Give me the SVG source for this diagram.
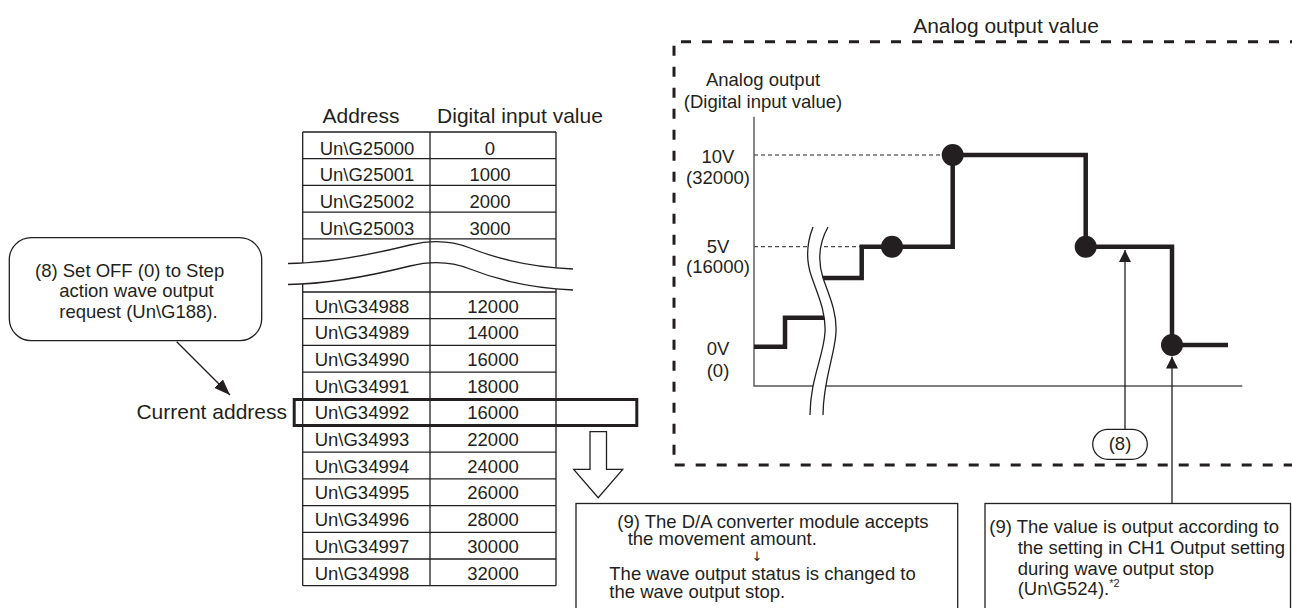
<svg xmlns="http://www.w3.org/2000/svg" width="1292" height="608" viewBox="0 0 1292 608">
<style>
text{font-family:"Liberation Sans",Arial,sans-serif;fill:#231f20;font-size:18.5px}
.big{font-size:21px}
.mid{text-anchor:middle}
.sym{font-family:"DejaVu Sans","Liberation Sans",sans-serif;font-size:13px}
.ln{stroke:#231f20;stroke-width:1.3;fill:none}
.ax{stroke:#555;stroke-width:1.4;fill:none}
.thick{stroke:#231f20;stroke-width:4.5;fill:none;stroke-linejoin:miter}
.frame{stroke:#231f20;stroke-width:3;fill:none;stroke-dasharray:10 11}
.dl{stroke:#231f20;stroke-width:1;fill:none;stroke-dasharray:4 3}
.dot{fill:#231f20}
</style>
<defs>
<marker id="ah" viewBox="0 0 12 12" refX="12" refY="6" markerWidth="12" markerHeight="12" markerUnits="userSpaceOnUse" orient="auto">
<path d="M0,0 L12,6 L0,12 Z" fill="#231f20"/>
</marker>
<marker id="ah2" viewBox="0 0 16 12" refX="16" refY="6" markerWidth="16" markerHeight="12" markerUnits="userSpaceOnUse" orient="auto">
<path d="M0,0 L16,6 L0,12 Z" fill="#231f20"/>
</marker>
</defs>

<g id="table">
<text class="big mid" x="361" y="122.5">Address</text>
<text class="big mid" x="520" y="122.5">Digital input value</text>
<path class="ln" d="M302.7,132 H556 M302.7,158.7 H556 M302.7,185.4 H556 M302.7,212.1 H556 M302.7,238.8 H556"/>
<path class="ln" d="M302.7,132 V292 M556,132 V292"/>
<path class="ln" d="M302.7,292 H556 M302.7,318.7 H556 M302.7,345.4 H556 M302.7,372.1 H556 M302.7,398.8 H556 M302.7,425.5 H556 M302.7,452.2 H556 M302.7,478.9 H556 M302.7,505.6 H556 M302.7,532.3 H556 M302.7,559 H556 M302.7,585.7 H556"/>
<path class="ln" d="M302.7,292 V585.7 M556,292 V585.7"/>
<path d="M288,263.5 C330,263 370,255 410,245 C430,240 450,240 470,248 C495,258 530,267 573,269 L573,290 C530,288 495,279 470,269 C450,261 430,261 410,266 C370,276 330,284 288,284.5 Z" fill="#fff"/>
<path class="ln" d="M288,263.5 C330,263 370,255 410,245 C430,240 450,240 470,248 C495,258 530,267 573,269"/>
<path class="ln" d="M288,284.5 C330,284 370,276 410,266 C430,261 450,261 470,269 C495,279 530,288 573,290"/>
<path class="ln" d="M430,132 V585.7"/>
<text class="mid" x="367" y="154.5">Un\G25000</text><text class="mid" x="490" y="154.5">0</text>
<text class="mid" x="367" y="181.2">Un\G25001</text><text class="mid" x="490" y="181.2">1000</text>
<text class="mid" x="367" y="207.9">Un\G25002</text><text class="mid" x="490" y="207.9">2000</text>
<text class="mid" x="367" y="234.6">Un\G25003</text><text class="mid" x="490" y="234.6">3000</text>
<text class="mid" x="362" y="312.5">Un\G34988</text><text class="mid" x="493" y="312.5">12000</text>
<text class="mid" x="362" y="339.2">Un\G34989</text><text class="mid" x="493" y="339.2">14000</text>
<text class="mid" x="362" y="365.9">Un\G34990</text><text class="mid" x="493" y="365.9">16000</text>
<text class="mid" x="362" y="392.6">Un\G34991</text><text class="mid" x="493" y="392.6">18000</text>
<text class="mid" x="362" y="419.3">Un\G34992</text><text class="mid" x="493" y="419.3">16000</text>
<text class="mid" x="362" y="446">Un\G34993</text><text class="mid" x="493" y="446">22000</text>
<text class="mid" x="362" y="472.7">Un\G34994</text><text class="mid" x="493" y="472.7">24000</text>
<text class="mid" x="362" y="499.4">Un\G34995</text><text class="mid" x="493" y="499.4">26000</text>
<text class="mid" x="362" y="526.1">Un\G34996</text><text class="mid" x="493" y="526.1">28000</text>
<text class="mid" x="362" y="552.8">Un\G34997</text><text class="mid" x="493" y="552.8">30000</text>
<text class="mid" x="362" y="579.5">Un\G34998</text><text class="mid" x="493" y="579.5">32000</text>
</g>

<g id="current-row">
<rect x="294.2" y="399.5" width="342.6" height="26" fill="none" stroke="#231f20" stroke-width="3"/>
</g>

<g id="current-address">
<text class="big" x="287" y="419" text-anchor="end">Current address</text>
</g>

<g id="callout-8">
<rect x="9.3" y="237.7" width="252.4" height="103" rx="22" ry="22" class="ln" fill="#fff"/>
<text x="35" y="276.5">(8) Set OFF (0) to Step</text>
<text x="59.3" y="297">action wave output</text>
<text x="59.3" y="317.5">request (Un\G188).</text>
</g>

<g id="chart">
<text class="big mid" x="1006" y="33">Analog output value</text>
<path class="frame" d="M1300,41.7 H674 V465 H1300"/>
<text class="mid" x="763" y="85.7">Analog output</text>
<text class="mid" x="763" y="108.3">(Digital input value)</text>
<text class="mid" x="718" y="163">10V</text>
<text class="mid" x="718" y="183.5">(32000)</text>
<text class="mid" x="718" y="253">5V</text>
<text class="mid" x="718" y="273">(16000)</text>
<text class="mid" x="718" y="355">0V</text>
<text class="mid" x="718" y="377">(0)</text>
<path class="dl" d="M754,155 H942 M754,246.7 H860"/>
<path class="ax" d="M754,116.7 V386 H1242.3"/>
<path class="thick" d="M754,346.7 H785 V317.7 H826"/>
<path class="thick" d="M820,278 H861.7 V246.7 H952.7 V155 H1085.7 V246.7 H1172 V345 H1228"/>
<path d="M813,227 C806,245 806,262 812,278 C818,295 826,312 825,332 C824,355 810,380 810,415 L823,415 C823,380 835,355 836,332 C837,312 829,295 823,278 C818,262 818,245 828,227 Z" fill="#fff"/>
<path class="ln" d="M813,227 C806,245 806,262 812,278 C818,295 826,312 825,332 C824,355 810,380 810,415"/>
<path class="ln" d="M828,227 C818,245 818,262 823,278 C829,295 837,312 836,332 C835,355 823,380 823,415"/>
<circle class="dot" cx="892" cy="246.7" r="11"/>
<circle class="dot" cx="952.7" cy="155" r="11"/>
<circle class="dot" cx="1085.7" cy="246.7" r="11"/>
<circle class="dot" cx="1172" cy="345" r="11"/>
</g>

<g id="label-8">
<rect x="1092.7" y="429.3" width="54.6" height="30" rx="15" ry="15" class="ln" fill="#fff"/>
<text class="mid" x="1120" y="450">(8)</text>
</g>

<g id="box-9-left">
<rect x="576" y="503.5" width="381.7" height="130" class="ln" fill="#fff"/>
<text x="617.3" y="528.3">(9) The D/A converter module accepts</text>
<text x="627.7" y="544.8">the movement amount.</text>
<text class="sym mid" x="757" y="561">↓</text>
<text x="609.3" y="579.6">The wave output status is changed to</text>
<text x="609.3" y="598.3">the wave output stop.</text>
</g>

<g id="box-9-right">
<rect x="985" y="503.5" width="305.5" height="130" class="ln" fill="#fff"/>
<text x="989.3" y="533">(9) The value is output according to</text>
<text x="1017.7" y="554">the setting in CH1 Output setting</text>
<text x="1017.7" y="575">during wave output stop</text>
<text x="1017.7" y="595">(Un\G524).<tspan dy="-8" style="font-size:11px">*2</tspan></text>
</g>

<g id="connectors">
<path class="ln" d="M176.7,341.7 L230,395" marker-end="url(#ah2)"/>
<path d="M590,431.7 H606.5 V469.3 H622.7 L598.2,497.7 L573.7,469.3 H590 Z" fill="#fff" stroke="#231f20" stroke-width="1.3"/>
<path class="ln" d="M1125,429.3 V250" marker-end="url(#ah)"/>
<path class="ln" d="M1172,503.5 V356.5" marker-end="url(#ah)"/>
</g>
</svg>
